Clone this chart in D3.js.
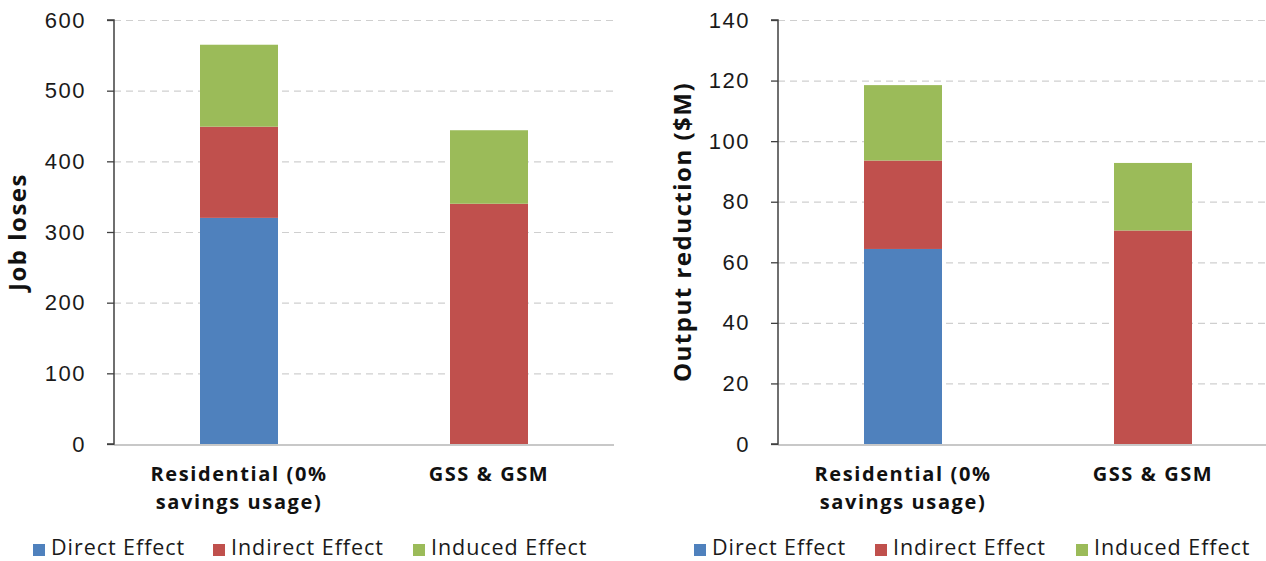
<!DOCTYPE html>
<html>
<head>
<meta charset="utf-8">
<script src="https://cdn.jsdelivr.net/npm/d3@7"></script>
<style>
  html, body { margin: 0; padding: 0; background: #fff; }
  svg { display: block; font-family: "Open Sans", "Noto Sans", sans-serif; }
</style>
</head>
<body>
<svg id="chart" width="1266" height="561"></svg>
<script>
// Economic impact of the two programs, split by effect type
const categoryLines = [["Residential (0%", "savings usage)"], ["GSS & GSM"]];
const seriesNames = ["Direct Effect", "Indirect Effect", "Induced Effect"];
const seriesColors = ["#4F81BD", "#C0504D", "#9BBB59"];

// Job losses
const jobsDirect   = [320, 0];
const jobsIndirect = [129, 340];
const jobsInduced  = [116, 104];
const jobsTicks    = [0, 100, 200, 300, 400, 500, 600];

// Output reduction ($M)
const outputDirect   = [64.4, 0];
const outputIndirect = [29.2, 70.5];
const outputInduced  = [24.9, 22.3];
const outputTicks    = [0, 20, 40, 60, 80, 100, 120, 140];

const svg = d3.select("#chart");

function drawPanel(cfg) {
  const g = svg.append("g");
  const x = d3.scaleBand()
    .domain(d3.range(categoryLines.length))
    .range([cfg.left, cfg.left + 500])
    .paddingInner(0.688)
    .paddingOuter(0.344);
  const y = d3.scaleLinear()
    .domain([0, d3.max(cfg.ticks)])
    .range([444, 20]);

  // horizontal dashed gridlines
  g.append("g").selectAll("line")
    .data(cfg.ticks.filter(t => t > 0))
    .join("line")
    .attr("x1", cfg.left).attr("x2", cfg.left + 500)
    .attr("y1", d => y(d) + 0.5).attr("y2", d => y(d) + 0.5)
    .attr("stroke", "#cfcfcf")
    .attr("stroke-width", 1.2)
    .attr("stroke-dasharray", "7,5");

  // stacked bars
  const rows = categoryLines.map((c, i) => {
    const r = { i };
    seriesNames.forEach((s, k) => { r[s] = cfg.values[k][i]; });
    return r;
  });
  const stacked = d3.stack().keys(seriesNames)(rows);
  g.append("g").selectAll("g")
    .data(stacked)
    .join("g")
    .attr("fill", (d, k) => seriesColors[k])
    .selectAll("rect")
    .data(d => d.filter(p => p[1] - p[0] > 0))
    .join("rect")
    .attr("x", d => x(d.data.i))
    .attr("width", x.bandwidth())
    .attr("y", d => y(d[1]))
    .attr("height", d => y(d[0]) - y(d[1]));

  // category baseline
  g.append("line")
    .attr("x1", cfg.left).attr("x2", cfg.left + 500)
    .attr("y1", y(0) + 1).attr("y2", y(0) + 1)
    .attr("stroke", "#c8c8c8").attr("stroke-width", 2);

  // value axis
  const axis = d3.axisLeft(y).tickValues(cfg.ticks).tickSize(7).tickPadding(21);
  const ax = g.append("g")
    .attr("transform", `translate(${cfg.left},0)`)
    .call(axis);
  ax.select(".domain").attr("stroke", "#404040").attr("stroke-width", 1.5)
    .attr("d", `M-7,${y(d3.max(cfg.ticks))}H0V${y(0)}H-7`);
  ax.selectAll(".tick line").attr("stroke", "#404040").attr("stroke-width", 1.3);
  ax.selectAll(".tick text")
    .attr("fill", "#1a1a1a")
    .style("font-size", "22px")
    .style("letter-spacing", "1.5px");

  // axis title
  g.append("text")
    .attr("transform", `translate(${cfg.titleX},232) rotate(-90)`)
    .attr("text-anchor", "middle")
    .attr("fill", "#111")
    .style("font-size", "24px")
    .style("font-weight", "bold")
    .style("letter-spacing", "1.5px")
    .text(cfg.title);

  // category labels, one text per line
  const labelLines = categoryLines.flatMap((lines, i) => lines.map((l, j) => ({ l, i, j })));
  g.append("g").selectAll("text")
    .data(labelLines)
    .join("text")
    .attr("text-anchor", "middle")
    .attr("x", d => x(d.i) + x.bandwidth() / 2)
    .attr("y", d => 481 + d.j * 27.5)
    .attr("fill", "#111")
    .style("font-size", "20px")
    .style("font-weight", "bold")
    .style("letter-spacing", "1.6px")
    .text(d => d.l);

  // legend
  const lg = g.append("g").selectAll("g")
    .data(seriesNames)
    .join("g")
    .attr("transform", (d, k) => `translate(${cfg.legendX[k]},0)`);
  lg.append("rect")
    .attr("x", 0).attr("y", 544)
    .attr("width", 12).attr("height", 12)
    .attr("fill", (d, k) => seriesColors[k]);
  lg.append("text")
    .attr("x", 18).attr("y", 555)
    .attr("fill", "#1a1a1a")
    .style("font-size", "21.5px")
    .style("letter-spacing", "0.95px")
    .text(d => d);
}

drawPanel({
  left: 114,
  ticks: jobsTicks,
  values: [jobsDirect, jobsIndirect, jobsInduced],
  title: "Job loses",
  titleX: 26,
  legendX: [33, 213, 413]
});

drawPanel({
  left: 778,
  ticks: outputTicks,
  values: [outputDirect, outputIndirect, outputInduced],
  title: "Output reduction ($M)",
  titleX: 691,
  legendX: [694, 875, 1076]
});
</script>
</body>
</html>
